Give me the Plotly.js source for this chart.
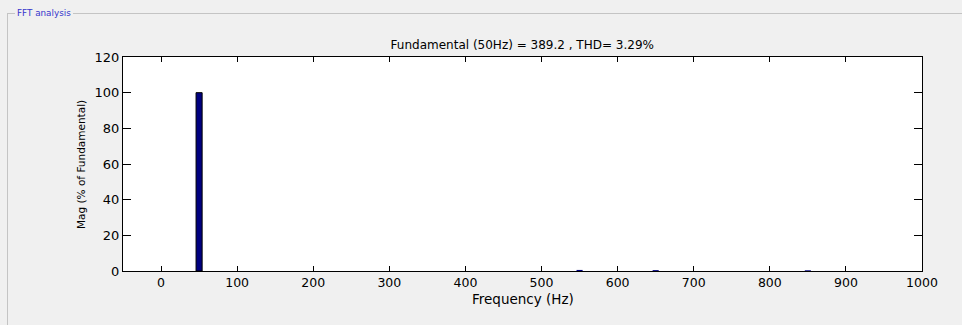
<!DOCTYPE html>
<html>
<head>
<meta charset="utf-8">
<script src="https://cdn.plot.ly/plotly-3.0.1.min.js"></script>
<style>
  html, body { margin: 0; padding: 0; background: #f0f0f0; width: 962px; height: 325px; overflow: hidden; }
  #box { position: absolute; left: 7px; top: 13px; width: 1000px; height: 400px;
         border-top: 1px solid #c4c4c4; border-left: 1px solid #c4c4c4; }
  #legend { position: absolute; left: 15px; top: 7px; padding: 0 2px; background: #f0f0f0;
            font-family: "DejaVu Sans", sans-serif; font-size: 8.8px; color: #3535cc; line-height: 12px; }
  #chart { position: absolute; left: 0; top: 0; width: 962px; height: 325px; }
</style>
</head>
<body>
<div id="box"></div>
<div id="legend">FFT analysis</div>
<div id="chart"></div>
<script>
// Harmonic frequencies (Hz) and magnitudes (% of fundamental)
const frequencies = [0, 50, 100, 150, 200, 250, 300, 350, 400, 450, 500, 550, 600, 650, 700, 750, 800, 850, 900, 950, 1000];
const magnitudes  = [0, 100, 0, 0, 0, 0, 0, 0, 0, 0, 0, 0.6, 0, 0.5, 0, 0, 0, 0.4, 0, 0, 0];
const xTickValues = [0, 100, 200, 300, 400, 500, 600, 700, 800, 900, 1000];
const yTickValues = [0, 20, 40, 60, 80, 100, 120];
const chartTitle = "Fundamental (50Hz) = 389.2 , THD= 3.29%";
const xLabel = "Frequency (Hz)";
const yLabel = "Mag (% of Fundamental)";

const font = "DejaVu Sans, sans-serif";

const trace = {
  type: "bar",
  x: frequencies,
  y: magnitudes,
  width: 8,
  marker: {
    color: "#00007f",
    line: { color: "#000000", width: magnitudes.map(v => (v > 1 ? 1 : 0)) }
  },
  hoverinfo: "x+y"
};

const layout = {
  width: 962,
  height: 325,
  margin: { l: 123, r: 40, t: 57, b: 54 },
  paper_bgcolor: "rgba(0,0,0,0)",
  plot_bgcolor: "#ffffff",
  showlegend: false,
  bargap: 0,
  title: {
    text: chartTitle,
    font: { family: font, size: 12, color: "#000000" },
    x: 0.5429, xanchor: "center",
    y: 0.862, yanchor: "middle"
  },
  xaxis: {
    range: [-50, 1000],
    tickvals: xTickValues,
    ticktext: xTickValues.map(String),
    ticks: "inside",
    ticklen: 5,
    tickcolor: "#000000",
    showline: true,
    linecolor: "#000000",
    linewidth: 1,
    mirror: "ticks",
    showgrid: false,
    zeroline: false,
    tickfont: { family: font, size: 12.5, color: "#000000" },
    ticklabelstandoff: 0
  },
  yaxis: {
    range: [0, 120],
    tickvals: yTickValues,
    ticktext: yTickValues.map(String),
    ticks: "inside",
    ticklen: 8,
    tickcolor: "#000000",
    showline: true,
    linecolor: "#000000",
    linewidth: 1,
    mirror: "ticks",
    showgrid: false,
    zeroline: false,
    tickfont: { family: font, size: 13, color: "#000000" },
    ticklabelstandoff: 0
  },
  annotations: [
    {
      text: xLabel, xref: "paper", yref: "paper",
      x: 0.5, y: -0.0864, xanchor: "center", yanchor: "top",
      showarrow: false, font: { family: font, size: 13.5, color: "#000000" }
    },
    {
      text: yLabel, xref: "paper", yref: "paper",
      x: -0.0526, y: 0.5, xanchor: "center", yanchor: "middle", textangle: -90,
      showarrow: false, font: { family: font, size: 10.5, color: "#000000" }
    }
  ]
};

Plotly.newPlot("chart", [trace], layout, { displayModeBar: false, staticPlot: true });
</script>
</body>
</html>
